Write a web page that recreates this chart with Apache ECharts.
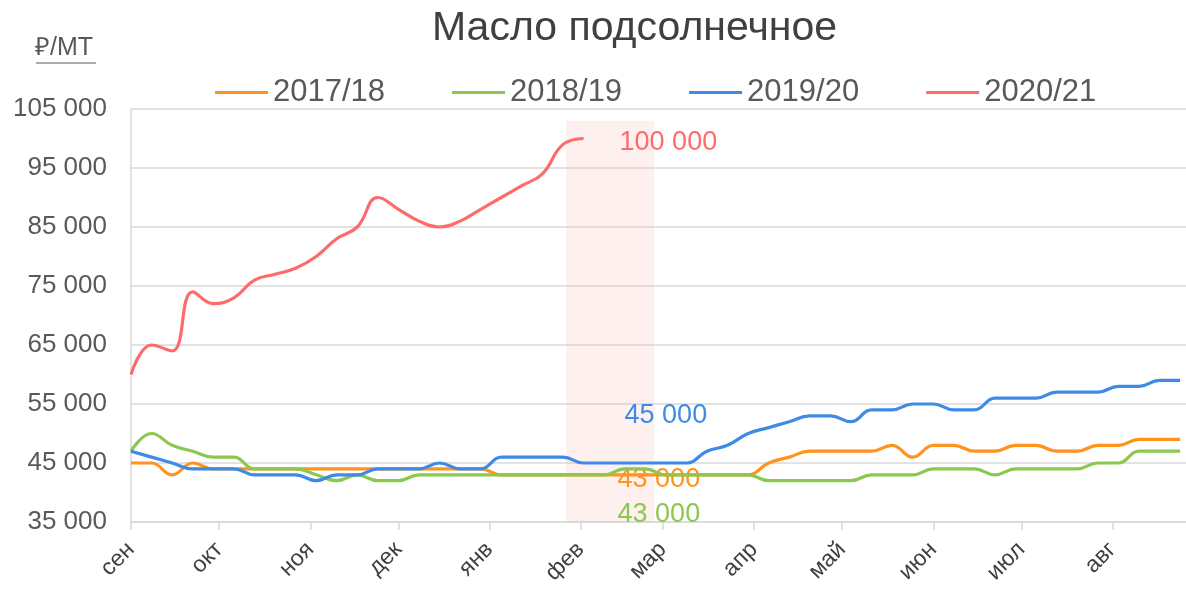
<!DOCTYPE html>
<html>
<head>
<meta charset="utf-8">
<script src="https://cdn.jsdelivr.net/npm/echarts@6/dist/echarts.min.js"></script>
<style>
  html, body { margin: 0; padding: 0; background: #fff; }
  #main { width: 1186px; height: 590px; }
</style>
</head>
<body>
<div id="main"></div>
<script>
// месяцы сезона и их первые дни (дней от 1 сентября)
var months = ['сен', 'окт', 'ноя', 'дек', 'янв', 'фев', 'мар', 'апр', 'май', 'июн', 'июл', 'авг'];
var monthDays = [0, 30, 61, 91, 122, 153, 181, 212, 242, 273, 303, 334];
var seasons = ['2017/18', '2018/19', '2019/20', '2020/21'];

// недельные цены, ₽/МТ
var s1718 = [45000, 45000, 43000, 45000, 44000, 44000, 44000, 44000, 44000, 44000, 44000, 44000, 44000,
  44000, 44000, 44000, 44000, 44000, 43000, 43000, 43000, 43000, 43000, 43000, 43000, 43000, 43000,
  43000, 43000, 43000, 43000, 45000, 46000, 47000, 47000, 47000, 47000, 48000, 46000, 48000, 48000,
  47000, 47000, 48000, 48000, 47000, 47000, 48000, 48000, 49000, 49000, 49000];
var s1819 = [47000, 50000, 48000, 47000, 46000, 46000, 44000, 44000, 44000, 43000, 42000, 43000, 42000,
  42000, 43000, 43000, 43000, 43000, 43000, 43000, 43000, 43000, 43000, 43000, 44000, 44000, 43000,
  43000, 43000, 43000, 43000, 42000, 42000, 42000, 42000, 42000, 43000, 43000, 43000, 44000, 44000,
  44000, 43000, 44000, 44000, 44000, 44000, 45000, 45000, 47000, 47000, 47000];
var s1920 = [47000, 46000, 45000, 44000, 44000, 44000, 43000, 43000, 43000, 42000, 43000, 43000, 44000,
  44000, 44000, 45000, 44000, 44000, 46000, 46000, 46000, 46000, 45000, 45000, 45000, 45000, 45000,
  45000, 47000, 48000, 50000, 51000, 52000, 53000, 53000, 52000, 54000, 54000, 55000, 55000, 54000,
  54000, 56000, 56000, 56000, 57000, 57000, 57000, 58000, 58000, 59000, 59000];
var s2021 = [60000, 65000, 64000, 74000, 72000, 73000, 76000, 77000, 78000, 80000, 83000, 85000, 90000,
  88000, 86000, 85000, 86000, 88000, 90000, 92000, 94000, 99000, 100000];

var labelWeek = 22;          // неделя с подписями значений
var bandDays = [148, 178];   // выделенный период (февраль)

var colors = ['#FF931E', '#8CC850', '#3E8AE6', '#FF6B6B'];
var labelOffsets = [[34, 5], [34, 40], [41, -47], [36, 4]];

function fmt(v) {
  return String(v).replace(/\B(?=(\d{3})+(?!\d))/g, ' ');
}

function makeSeries(name, values, idx) {
  var data = values.map(function (v, i) {
    var item = { value: [i * 7, v] };
    if (i === labelWeek) {
      item.label = {
        show: true,
        position: 'right',
        distance: labelOffsets[idx][0],
        offset: [0, labelOffsets[idx][1]],
        formatter: fmt(v),
        color: colors[idx],
        fontSize: 27,
        fontFamily: 'Liberation Sans'
      };
    }
    return item;
  });
  return {
    name: name,
    type: 'line',
    data: data,
    smooth: 0.45,
    showSymbol: true,
    showAllSymbol: true,
    symbol: 'circle',
    symbolSize: 0,
    lineStyle: { width: 3.2, color: colors[idx] },
    itemStyle: { color: colors[idx] },
    z: 3 + idx
  };
}

var series = [
  makeSeries(seasons[0], s1718, 0),
  makeSeries(seasons[1], s1819, 1),
  makeSeries(seasons[2], s1920, 2),
  makeSeries(seasons[3], s2021, 3)
];
series[0].markArea = {
  silent: true,
  itemStyle: { color: 'rgba(255, 180, 180, 0.2)' },
  data: [[{ xAxis: bandDays[0], yAxis: 35000 }, { xAxis: bandDays[1], yAxis: 103000 }]]
};

var chart = echarts.init(document.getElementById('main'));
chart.setOption({
  animation: false,
  textStyle: { fontFamily: 'Liberation Sans' },
  title: {
    text: 'Масло подсолнечное',
    left: 427,
    top: 3,
    textStyle: { fontSize: 41, fontWeight: 'normal', color: '#404040', fontFamily: 'Liberation Sans' }
  },
  legend: {
    data: seasons,
    left: 210,
    top: 72,
    icon: 'rect',
    itemWidth: 53,
    itemHeight: 3,
    itemGap: 67,
    textStyle: { fontSize: 31, color: '#595959', fontFamily: 'Liberation Sans' }
  },
  graphic: [
    {
      type: 'text', left: 35, top: 36,
      style: { text: '₽/МТ', fontSize: 25, fill: '#595959', fontFamily: 'Liberation Sans' }
    },
    {
      type: 'line', shape: { x1: 36, y1: 63, x2: 96, y2: 63 },
      style: { stroke: '#595959', lineWidth: 1 }
    }
  ],
  grid: { left: 131, right: 0, top: 109, bottom: 68 },
  xAxis: {
    type: 'value',
    min: 0,
    max: 359,
    splitLine: { show: false },
    axisLine: { lineStyle: { color: '#d9d9d9', width: 1.5 } },
    axisTick: { show: true, length: 8, customValues: monthDays, lineStyle: { color: '#d9d9d9', width: 1.5 } },
    axisLabel: {
      customValues: monthDays,
      rotate: 45,
      margin: 24,
      fontSize: 23,
      color: '#404040',
      formatter: function (v) { return months[monthDays.indexOf(v)] || ''; }
    }
  },
  yAxis: {
    type: 'value',
    min: 35000,
    max: 105000,
    interval: 10000,
    axisLine: { show: true, lineStyle: { color: '#d9d9d9', width: 1.5 } },
    axisTick: { show: false },
    splitLine: { lineStyle: { color: '#d9d9d9', width: 1.5 } },
    axisLabel: { fontSize: 26, color: '#595959', margin: 24, formatter: fmt }
  },
  series: series
});
</script>
</body>
</html>
